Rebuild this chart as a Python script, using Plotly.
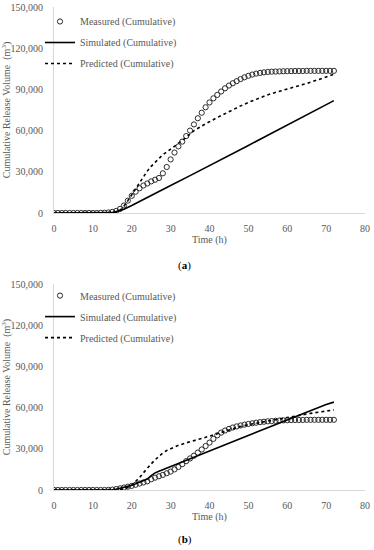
import plotly.graph_objects as go

# ---------------- data ----------------
hours = list(range(0, 73))

measured_a = [0, 0, 0, 0, 0, 0, 0, 0, 0, 0, 0, 0, 100, 200,
              400, 800, 1500, 3000, 5500, 9000, 12500, 15500, 18000, 20000,
              21500, 23000, 24200, 25500, 28900, 33500, 39000, 44000, 48500, 52000,
              56000, 60000, 64500, 69000, 73000, 77000, 80500, 83500, 86000, 88500,
              90800, 92800, 94500, 96000, 97500, 98800, 99900, 100800, 101500, 102000,
              102400, 102700, 102900, 103000, 103100, 103200, 103300, 103300, 103400, 103400,
              103400, 103500, 103500, 103500, 103500, 103500, 103500, 103500, 103500]

sim_a_t = [0, 14, 15, 16, 17, 18, 20, 22, 25, 30, 35, 40, 45, 50, 55, 60, 65, 70, 72]
sim_a_v = [0, 0, 400, 1000, 1800, 2800, 5500, 8500, 13000, 20000, 27200, 34400,
           41800, 49200, 56600, 64000, 71200, 78600, 81800]

pred_a_t = [0, 15, 16, 17, 18, 19, 20, 21, 22, 23, 24, 25, 26, 27, 28, 30, 32, 34, 36,
            38, 40, 42, 44, 46, 48, 50, 52, 54, 56, 58, 60, 62, 64, 66, 68, 70, 72]
pred_a_v = [0, 0, 500, 2000, 5000, 9000, 13500, 18000, 22500, 27000, 30500, 34000,
            37000, 40000, 42500, 46500, 50500, 55000, 60000, 63500, 66500, 69500, 72500,
            75500, 78000, 80500, 83000, 85000, 87000, 88500, 90000, 91800, 93500, 95200,
            97000, 99000, 101000]

measured_b = [0, 0, 0, 0, 0, 0, 0, 0, 0, 0, 0, 0, 0, 0,
              100, 300, 700, 1200, 1800, 2400, 3000, 3800, 4700, 5500,
              6300, 7800, 9000, 10000, 11000, 12200, 13400, 15000, 16800, 18800,
              21000, 23000, 25000, 27200, 29500, 32000, 34500, 37200, 39800, 41800,
              43300, 44500, 45500, 46300, 47000, 47600, 48100, 48600, 49000, 49400,
              49700, 50000, 50200, 50400, 50600, 50700, 50800, 50900, 51000, 51000,
              51000, 51100, 51100, 51100, 51100, 51100, 51100, 51100, 51100]

sim_b_t = [0, 14, 15, 16, 17, 18, 19, 20, 21, 22, 23, 24, 25, 26, 27, 28, 30, 32, 34,
           36, 40, 45, 50, 55, 60, 65, 70, 72]
sim_b_v = [0, 0, 200, 600, 1200, 1800, 2600, 3500, 4500, 5600, 6800, 8000, 10500,
           12500, 13700, 14800, 16800, 19000, 21500, 23800, 28400, 34100, 39800,
           45400, 51000, 56700, 62300, 64000]

pred_b_t = [0, 16, 17, 18, 19, 20, 21, 22, 23, 24, 25, 26, 27, 28, 29, 30, 32, 34, 36,
            38, 40, 42, 44, 46, 48, 50, 52, 54, 56, 58, 60, 62, 64, 66, 68, 70, 72]
pred_b_v = [0, 0, 300, 800, 1800, 3500, 6000, 9000, 12500, 16000, 19000, 22000,
            24800, 27000, 28800, 30200, 32500, 34300, 35800, 37400, 39200, 41000,
            42800, 44500, 46200, 47600, 48700, 49700, 50700, 51800, 52800, 53800,
            54800, 55800, 56700, 57600, 58300]

y_ticks = [0, 30000, 60000, 90000, 120000, 150000]
x_ticks = [0, 10, 20, 30, 40, 50, 60, 70, 80]
names = ["Measured (Cumulative)", "Simulated (Cumulative)", "Predicted (Cumulative)"]
panel_labels = ["(<b>a</b>)", "(<b>b</b>)"]
x_title = "Time (h)"
y_title = "Cumulative Release Volume  (m<sup>3</sup>)"

# ---------------- figure ----------------
FONT = "Liberation Serif, Times New Roman, serif"
GRAY = "#595959"

fig = go.Figure()

panels = [
    (measured_a, sim_a_t, sim_a_v, pred_a_t, pred_a_v, "x", "y", "legend"),
    (measured_b, sim_b_t, sim_b_v, pred_b_t, pred_b_v, "x2", "y2", "legend2"),
]
for meas, st, sv, pt, pv, xa, ya, lg in panels:
    fig.add_trace(go.Scatter(
        x=hours, y=meas, mode="markers", name=names[0], xaxis=xa, yaxis=ya,
        legend=lg, legendgroup=lg + "m",
        marker=dict(symbol="circle-open", size=5.2, color="#2b2b2b",
                    line=dict(width=1, color="#2b2b2b")),
    ))
    fig.add_trace(go.Scatter(
        x=st, y=sv, mode="lines", name=names[1], xaxis=xa, yaxis=ya,
        legend=lg, legendgroup=lg + "s",
        line=dict(color="black", width=1.6),
    ))
    fig.add_trace(go.Scatter(
        x=pt, y=pv, mode="lines", name=names[2], xaxis=xa, yaxis=ya,
        legend=lg, legendgroup=lg + "p",
        line=dict(color="black", width=1.6, dash="dot"),
    ))

axis_common = dict(showgrid=False, zeroline=False, showline=True, automargin=False,
                   linecolor="#d9d9d9", linewidth=1, ticks="",
                   tickfont=dict(family=FONT, size=10, color=GRAY))

top_dom = [0.5735, 1.0]
bot_dom = [0.0, 0.4265]

fig.update_layout(
    width=374, height=550,
    margin=dict(l=54, r=9, t=7, b=60),
    paper_bgcolor="white", plot_bgcolor="white",
    font=dict(family=FONT, size=10, color=GRAY),
    xaxis=dict(domain=[0, 1], anchor="y", range=[0, 80], tickvals=x_ticks,
               ticklabelstandoff=6,
               title=dict(text=x_title, standoff=2, font=dict(family=FONT, size=10, color=GRAY)),
               **axis_common),
    yaxis=dict(domain=top_dom, anchor="x", range=[0, 150000], tickvals=y_ticks,
               tickformat=",", ticklabelstandoff=8,
               title=dict(text=y_title, standoff=4, font=dict(family=FONT, size=10, color=GRAY)),
               **axis_common),
    xaxis2=dict(domain=[0, 1], anchor="y2", range=[0, 80], tickvals=x_ticks,
                ticklabelstandoff=6,
                title=dict(text=x_title, standoff=2, font=dict(family=FONT, size=10, color=GRAY)),
                **axis_common),
    yaxis2=dict(domain=bot_dom, anchor="x2", range=[0, 150000], tickvals=y_ticks,
                tickformat=",", ticklabelstandoff=8,
                title=dict(text=y_title, standoff=4, font=dict(family=FONT, size=10, color=GRAY)),
                **axis_common),
    legend=dict(x=-0.045, y=1.0, xanchor="left", yanchor="top",
                bgcolor="rgba(0,0,0,0)", tracegroupgap=2,
                font=dict(family=FONT, size=10, color=GRAY)),
    legend2=dict(x=-0.045, y=0.4325, xanchor="left", yanchor="top",
                 bgcolor="rgba(0,0,0,0)", tracegroupgap=2,
                 font=dict(family=FONT, size=10, color=GRAY)),
    showlegend=True,
)

fig.add_annotation(text=panel_labels[0], xref="paper", yref="paper", x=0.42, y=0.4638,
                   showarrow=False, xanchor="center", yanchor="middle",
                   font=dict(family=FONT, size=11, color="black"))
fig.add_annotation(text=panel_labels[1], xref="paper", yref="paper", x=0.42, y=-0.1035,
                   showarrow=False, xanchor="center", yanchor="middle",
                   font=dict(family=FONT, size=11, color="black"))

fig.write_html("out.html", config={"displayModeBar": False},
               post_script="document.body.style.margin='0';")
